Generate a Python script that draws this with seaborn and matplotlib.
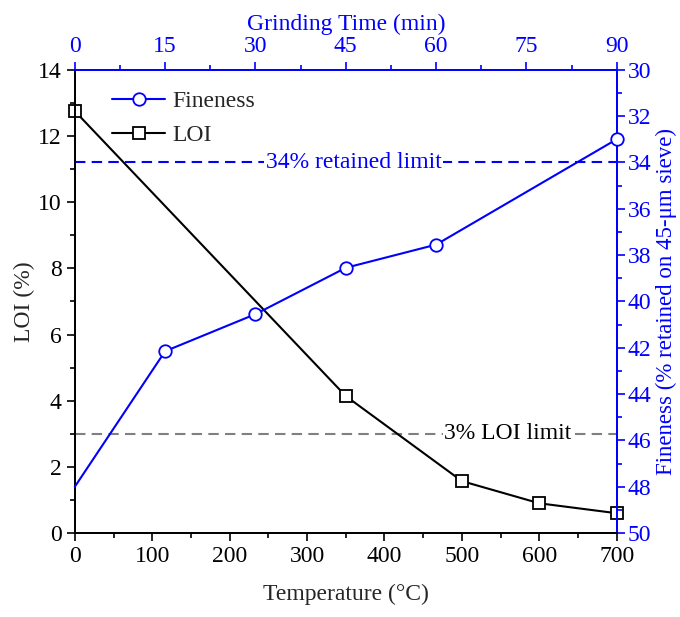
import numpy as np
import pandas as pd
import matplotlib
matplotlib.use("Agg")
import matplotlib.pyplot as plt
import seaborn as sns
from matplotlib.ticker import MultipleLocator

# datos
temperature = [0, 350, 500, 600, 700]
loi = [12.75, 4.14, 1.57, 0.90, 0.60]

grinding_time = [0, 15, 30, 45, 60, 90]
fineness = [48.0, 42.15, 40.55, 38.55, 37.55, 33.0]

loi_limit = 3
fineness_limit = 34

sns.set_style("ticks")
plt.rcParams['font.family'] = ['Liberation Serif', 'DejaVu Serif']
plt.rcParams['mathtext.fontset'] = 'stix'

df_loi = pd.DataFrame({"temp": temperature, "loi": loi})
df_fin = pd.DataFrame({"time": grinding_time, "fin": fineness})

blue = "#0000ff"
fs = 17

fig = plt.figure(figsize=(6.8, 6.17), dpi=100)
ax = fig.add_axes([0.110, 0.136, 0.797, 0.751])
ax2 = ax.twinx()
ax3 = ax2.twiny()

# LOI vs temperatura
sns.lineplot(data=df_loi, x="temp", y="loi", ax=ax, color="black", lw=1.5,
             marker="s", markersize=9, markerfacecolor="white",
             markeredgecolor="black", markeredgewidth=1.3, label="LOI",
             legend=False, clip_on=False, zorder=5)
ax.axhline(loi_limit, color="gray", ls=(0, (5, 3)), lw=1.5, zorder=1)
ax.text(559, loi_limit, "3% LOI limit", ha="center", va="center", fontsize=fs,
        color="black", bbox=dict(facecolor="white", edgecolor="none", pad=1))

ax.set_xlim(0, 700)
ax.set_ylim(0, 14)
ax.xaxis.set_major_locator(MultipleLocator(100))
ax.xaxis.set_minor_locator(MultipleLocator(50))
ax.yaxis.set_major_locator(MultipleLocator(2))
ax.yaxis.set_minor_locator(MultipleLocator(1))
ax.set_xlabel("Temperature (°C)", fontsize=fs, labelpad=12)
ax.set_ylabel("LOI (%)", fontsize=fs, labelpad=2)
ax.tick_params(which="both", direction="out", labelsize=fs, width=1.2, colors="black")
ax.tick_params(which="major", length=6)
ax.tick_params(which="minor", length=3.5)

# finura vs tiempo de molienda
sns.lineplot(data=df_fin, x="time", y="fin", ax=ax3, color=blue, lw=1.5,
             marker="o", markersize=9, markerfacecolor="white",
             markeredgecolor=blue, markeredgewidth=1.3, markevery=[1, 2, 3, 4, 5],
             label="Fineness", legend=False, clip_on=False, zorder=5)
ax3.axhline(fineness_limit, color=blue, ls=(0, (5, 3)), lw=1.5, zorder=1)
ax3.text(46.3, fineness_limit, "34% retained limit", ha="center", va="center",
         fontsize=fs, color=blue,
         bbox=dict(facecolor="white", edgecolor="none", pad=1))

ax3.set_xlim(0, 90)
ax2.set_ylim(50, 30)
ax3.set_ylim(50, 30)
ax3.xaxis.set_major_locator(MultipleLocator(15))
ax3.xaxis.set_minor_locator(MultipleLocator(7.5))
ax2.yaxis.set_major_locator(MultipleLocator(2))
ax2.yaxis.set_minor_locator(MultipleLocator(1))
ax3.set_xlabel("Grinding Time (min)", fontsize=fs, color=blue, labelpad=4)
ax2.set_ylabel("Fineness (% retained on 45-μm sieve)", fontsize=16.5, color=blue,
               labelpad=3)
ax3.tick_params(axis="x", which="both", direction="out", labelsize=fs, width=1.2,
                colors=blue)
ax3.tick_params(axis="x", which="major", length=6)
ax3.tick_params(axis="x", which="minor", length=3.5)
ax2.tick_params(axis="y", which="both", direction="out", labelsize=fs, width=1.2,
                colors=blue, pad=2)
ax2.tick_params(axis="y", which="major", length=6)
ax2.tick_params(axis="y", which="minor", length=3.5)

for a in (ax, ax2, ax3):
    for s in a.spines.values():
        s.set_linewidth(1.2)
    a.spines["left"].set_color("black")
    a.spines["bottom"].set_color("black")
    a.spines["top"].set_color(blue)
    a.spines["right"].set_color(blue)

# leyenda con las dos series
h1, l1 = ax3.get_legend_handles_labels()
h2, l2 = ax.get_legend_handles_labels()
ax3.legend(h1 + h2, l1 + l2, loc="upper left", bbox_to_anchor=(0.03, 1.0),
           frameon=False, fontsize=fs, handlelength=2.25, labelspacing=0.5,
           handletextpad=0.3)

fig.savefig("out.png", dpi=100)
